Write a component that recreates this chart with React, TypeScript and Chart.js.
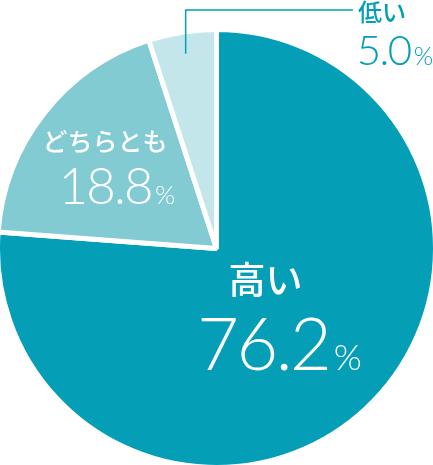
import React, { useEffect, useRef } from "react";
import { Chart, registerables } from "chart.js";

Chart.register(...registerables);

const categories = ["高い", "どちらとも", "低い"];
const shares = [76.2, 18.8, 5.0];
const sliceColors = ["#049fb7", "#82cbd3", "#c3e6ea"];

const TEAL = "#049fb7";
const CJK = '"Noto Sans CJK JP", "Noto Sans", sans-serif';
const NUM = 'Lato, "Noto Sans", sans-serif';

// label placement in units of the pie radius, measured from the pie centre
interface LabelSpot {
  nameX: number;
  nameY: number;
  nameSize: number;
  numX: number;
  numY: number;
  numSize: number;
  pctSize: number;
  color: string;
  leader?: boolean;
}

const spots: LabelSpot[] = [
  { nameX: 0.224, nameY: 0.144, nameSize: 37, numX: -0.088, numY: 0.555, numSize: 72, pctSize: 36, color: "#ffffff" },
  { nameX: -0.509, nameY: -0.489, nameSize: 25, numX: -0.722, numY: -0.203, numSize: 51, pctSize: 26, color: "#ffffff" },
  { nameX: 0.646, nameY: -1.08, nameSize: 24, numX: 0.64, numY: -0.838, numSize: 42, pctSize: 25, color: TEAL, leader: true },
];

const sliceLabels = {
  id: "sliceLabels",
  afterDatasetsDraw(chart: Chart) {
    const ctx = chart.ctx as any;
    const meta = chart.getDatasetMeta(0);
    meta.data.forEach((el: any, i: number) => {
      const spot = spots[i];
      if (!spot) return;
      const { x, y, outerRadius, startAngle, endAngle } = el.getProps(
        ["x", "y", "outerRadius", "startAngle", "endAngle"],
        true
      );
      const r = outerRadius;
      ctx.save();

      if (spot.leader) {
        const mid = (startAngle + endAngle) / 2;
        const sx = x + Math.cos(mid) * r * 0.9;
        const sy = y + Math.sin(mid) * r * 0.9;
        const topY = y - r * 1.089;
        ctx.strokeStyle = TEAL;
        ctx.lineWidth = 1.5;
        ctx.beginPath();
        ctx.moveTo(sx, sy);
        ctx.lineTo(sx, topY);
        ctx.lineTo(x + r * 0.623, topY);
        ctx.stroke();
      }

      ctx.fillStyle = spot.color;
      ctx.font = `500 ${spot.nameSize}px ${CJK}`;
      ctx.textBaseline = "middle";
      ctx.textAlign = spot.leader ? "left" : "center";
      ctx.fillText(categories[i], x + spot.nameX * r, y + spot.nameY * r);

      const num = shares[i].toFixed(1);
      ctx.textAlign = "left";
      ctx.textBaseline = "alphabetic";
      ctx.font = `300 ${spot.numSize}px ${NUM}`;
      ctx.letterSpacing = `${(-0.035 * spot.numSize).toFixed(1)}px`;
      const nx = x + spot.numX * r;
      const ny = y + spot.numY * r;
      ctx.fillText(num, nx, ny);
      const w = ctx.measureText(num).width;
      ctx.letterSpacing = "0px";
      ctx.font = `300 ${spot.pctSize}px ${NUM}`;
      ctx.fillText("%", nx + w + spot.pctSize * 0.12, ny);
      ctx.restore();
    });
  },
};

export default function App() {
  const canvasRef = useRef<HTMLCanvasElement | null>(null);
  const chartRef = useRef<Chart | null>(null);

  useEffect(() => {
    document.body.style.margin = "0";
    if (!canvasRef.current) return;
    if (chartRef.current) chartRef.current.destroy();

    chartRef.current = new Chart(canvasRef.current, {
      type: "pie",
      data: {
        labels: categories,
        datasets: [
          {
            data: shares,
            backgroundColor: sliceColors,
            borderColor: "#ffffff",
            borderWidth: 5,
            hoverOffset: 0,
          },
        ],
      },
      options: {
        responsive: false,
        animation: false,
        devicePixelRatio: 1,
        layout: { padding: { top: 32 } },
        plugins: {
          legend: { display: false },
          tooltip: { enabled: false },
        },
      },
      plugins: [sliceLabels],
    });

    return () => {
      if (chartRef.current) {
        chartRef.current.destroy();
        chartRef.current = null;
      }
    };
  }, []);

  return (
    <div style={{ width: 433, height: 465, overflow: "hidden", position: "relative", background: "#ffffff" }}>
      <canvas
        ref={canvasRef}
        width={443}
        height={475}
        style={{ position: "absolute", left: -5, top: -5 }}
      />
    </div>
  );
}
